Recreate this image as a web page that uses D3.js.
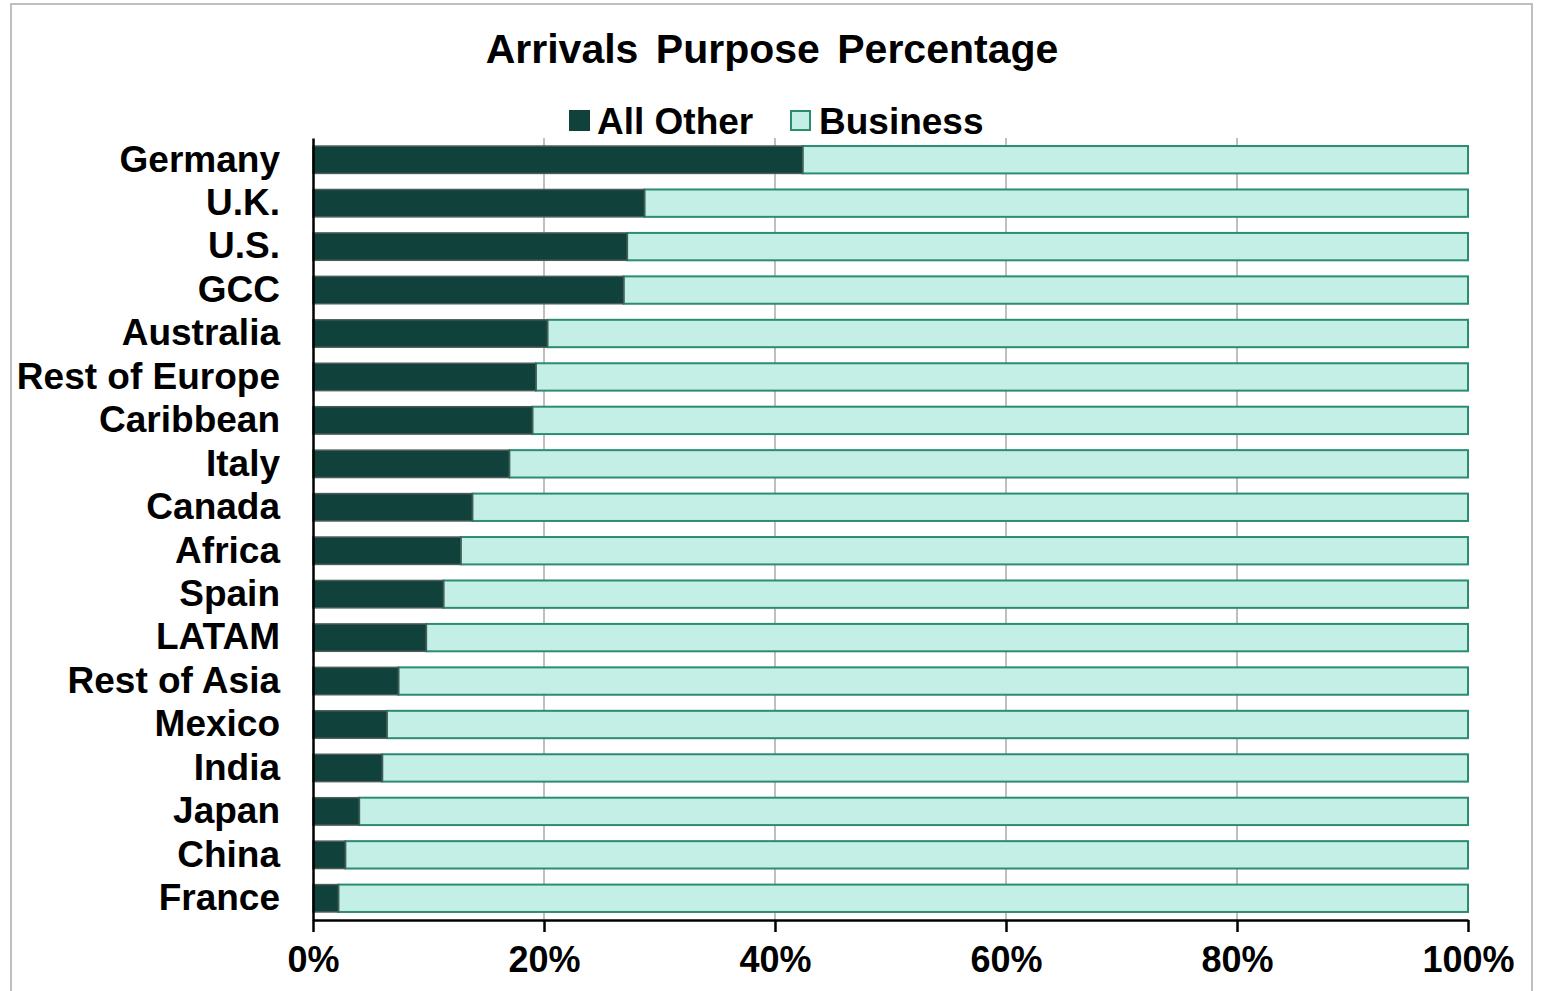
<!DOCTYPE html>
<html><head><meta charset="utf-8">
<script src="https://cdn.jsdelivr.net/npm/d3@7"></script>
<style>
html,body{margin:0;padding:0;background:#fff;}
svg{display:block;font-family:"Liberation Sans",Arial,sans-serif;}
</style></head>
<body>
<svg id="chart" width="1547" height="991"></svg>
<script>
const categories = ["Germany","U.K.","U.S.","GCC","Australia","Rest of Europe","Caribbean","Italy","Canada","Africa","Spain","LATAM","Rest of Asia","Mexico","India","Japan","China","France"];
const allOther = [42.4,28.7,27.2,26.9,20.3,19.3,19.0,17.0,13.8,12.8,11.3,9.8,7.4,6.4,6.0,4.0,2.8,2.2];
const business = allOther.map(v => 100 - v);
const seriesNames = ["All Other","Business"];
const tickValues = [0,20,40,60,80,100];
const title = "Arrivals Purpose Percentage";

const svg = d3.select("#chart");
const W = 1547, H = 991;
const m = {left:313, right:W-1468, top:138, bottom:H-920};

// outer frame
svg.append("rect").attr("x",11).attr("y",4).attr("width",1521).attr("height",1000)
  .attr("fill","#fff").attr("stroke","#bfbfbf").attr("stroke-width",2);

const x = d3.scaleLinear().domain([0,100]).range([m.left, W-m.right]);
const y = d3.scaleBand().domain(categories).range([m.top, H-m.bottom]).paddingInner(0.37).paddingOuter(0.185);

// gridlines
svg.append("g").selectAll("line").data(tickValues.filter(t=>t>0 && t<100)).join("line")
  .attr("x1",d=>x(d)).attr("x2",d=>x(d)).attr("y1",m.top).attr("y2",H-m.bottom)
  .attr("stroke","#bfbfbf").attr("stroke-width",2);

const rows = categories.map((c,i)=>({cat:c, a:allOther[i], b:business[i]}));
const g = svg.append("g");
// business (light)
g.selectAll("rect.b").data(rows).join("rect").attr("class","b")
  .attr("x",d=>x(d.a)).attr("y",d=>y(d.cat)).attr("width",d=>x(100)-x(d.a)).attr("height",y.bandwidth())
  .attr("fill","#c3efe6").attr("stroke","#2b8c72").attr("stroke-width",2);
// all other (dark)
g.selectAll("rect.a").data(rows).join("rect").attr("class","a")
  .attr("x",x(0)).attr("y",d=>y(d.cat)).attr("width",d=>x(d.a)-x(0)).attr("height",y.bandwidth())
  .attr("fill","#10423b").attr("stroke","#4a5c58").attr("stroke-width",1.5);

// x axis
const xAxis = d3.axisBottom(x).tickValues(tickValues).tickFormat(d=>d+"%").tickSize(12).tickSizeOuter(0);
const xg = svg.append("g").attr("transform",`translate(0,${H-m.bottom})`).call(xAxis);
xg.select(".domain").attr("stroke","#000").attr("stroke-width",2.5);
xg.selectAll(".tick line").attr("stroke","#000").attr("stroke-width",2.5);
xg.selectAll(".tick text").attr("fill","#000").attr("font-size",36).attr("font-weight","bold")
  .attr("font-family","Liberation Sans, Arial, sans-serif").attr("y",26).attr("dy","0.71em");

// y axis
const yAxis = d3.axisLeft(y).tickSize(0).tickPadding(33);
const yg = svg.append("g").attr("transform",`translate(${m.left},0)`).call(yAxis);
yg.select(".domain").attr("stroke","#000").attr("stroke-width",2.5);
yg.selectAll(".tick text").attr("fill","#000").attr("font-size",37).attr("font-weight","bold")
  .attr("font-family","Liberation Sans, Arial, sans-serif");

// title
svg.append("text").attr("x",772).attr("y",63).attr("text-anchor","middle")
  .attr("font-size",41).attr("font-weight","bold").attr("word-spacing","6px").attr("fill","#000").text(title);

// legend
const legend = svg.append("g");
const legItems = [
  {name:seriesNames[0], sx:570, tx:597, fill:"#10423b", stroke:"#10423b"},
  {name:seriesNames[1], sx:791, tx:819, fill:"#c3efe6", stroke:"#2b8c72"}
];
legItems.forEach(it=>{
  legend.append("rect").attr("x",it.sx).attr("y",111).attr("width",19).attr("height",19)
    .attr("fill",it.fill).attr("stroke",it.stroke).attr("stroke-width",2);
  legend.append("text").attr("x",it.tx).attr("y",134).attr("font-size",37).attr("font-weight","bold")
    .attr("fill","#000").text(it.name);
});
</script>
</body></html>
